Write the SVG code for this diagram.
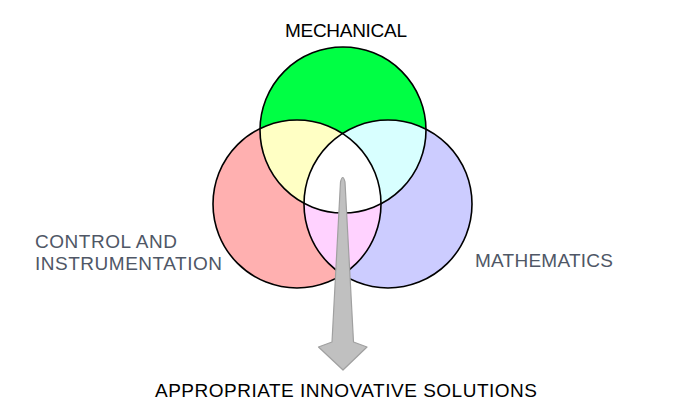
<svg xmlns="http://www.w3.org/2000/svg" width="680" height="408" viewBox="0 0 680 408">
<style>
.lbl{font-family:"Liberation Sans",Arial,sans-serif;font-size:19px;}
.dark{fill:#000000;}
.gray{fill:#4f5766;}
.ring{fill:none;stroke:#000000;stroke-width:1.6;}
</style>
<defs>
<clipPath id="cG"><circle cx="343" cy="130" r="83"/></clipPath>
<clipPath id="cR"><circle cx="297" cy="204" r="84"/></clipPath>
<clipPath id="cB"><circle cx="388" cy="204" r="84"/></clipPath>
</defs>
<rect width="680" height="408" fill="#ffffff"/>
<g id="control">
<circle cx="297" cy="204" r="84" fill="#ffb0b0"/>
</g>
<g id="mathematics">
<circle cx="388" cy="204" r="84" fill="#ccccff"/>
</g>
<g id="mechanical">
<circle cx="343" cy="130" r="83" fill="#00ff44"/>
</g>
<g id="overlaps">
<circle cx="343" cy="130" r="83" fill="#ffffc4" clip-path="url(#cR)"/>
<circle cx="343" cy="130" r="83" fill="#d8ffff" clip-path="url(#cB)"/>
<circle cx="297" cy="204" r="84" fill="#ffd2ff" clip-path="url(#cB)"/>
<g clip-path="url(#cR)"><circle cx="343" cy="130" r="83" fill="#ffffff" clip-path="url(#cB)"/></g>
</g>
<g id="outlines">
<circle class="ring" cx="297" cy="204" r="84"/>
<circle class="ring" cx="388" cy="204" r="84"/>
<circle class="ring" cx="343" cy="130" r="83"/>
</g>
<g id="connectors">
<path d="M340.5,182 Q342.7,173 345,182 L353.5,342 L367,347 L343,370 L318.5,347 L332,342 Z" fill="#c0c0c0" stroke="#a0a0a0" stroke-width="1.2" stroke-linejoin="round"/>
</g>
<g id="labels">
<text class="lbl dark" x="285" y="36.5" textLength="122" lengthAdjust="spacing">MECHANICAL</text>
<text class="lbl gray" x="35" y="248" textLength="142" lengthAdjust="spacing">CONTROL AND</text>
<text class="lbl gray" x="35" y="269.5" textLength="187" lengthAdjust="spacing">INSTRUMENTATION</text>
<text class="lbl gray" x="475" y="266.5" textLength="138" lengthAdjust="spacing">MATHEMATICS</text>
<text class="lbl dark" x="155" y="396.5" textLength="382" lengthAdjust="spacing">APPROPRIATE INNOVATIVE SOLUTIONS</text>
</g>
</svg>
